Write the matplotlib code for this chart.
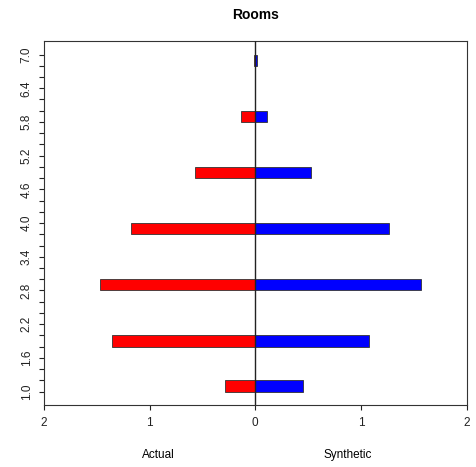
import numpy as np
import matplotlib.pyplot as plt

plt.rcParams['font.family'] = ['Liberation Sans', 'DejaVu Sans']

# histogram bins (width 0.2) that hold data, given by their lower break
bin_lo = [1.0, 1.8, 2.8, 3.8, 4.8, 5.8, 6.8]
# densities per bin
actual = [0.291, 1.353, 1.469, 1.173, 0.575, 0.136, 0.010]
synthetic = [0.448, 1.080, 1.573, 1.263, 0.527, 0.114, 0.015]

breaks = np.round(np.arange(1.0, 7.0001, 0.2), 1)
y_labels = [1.0, 1.6, 2.2, 2.8, 3.4, 4.0, 4.6, 5.2, 5.8, 6.4, 7.0]
x_ticks = [-2, -1, 0, 1, 2]
x_labels = ['2', '1', '0', '1', '2']

fig = plt.figure(figsize=(4.77, 4.67), dpi=100)
ax = fig.add_axes([0.0922, 0.1328, 0.8858, 0.7792])

bw = 0.2
ax.barh(bin_lo, [-v for v in actual], height=bw, align='edge',
        color='#ff0000', edgecolor='#333333', linewidth=0.6, zorder=2)
ax.barh(bin_lo, synthetic, height=bw, align='edge',
        color='#0000ff', edgecolor='#333333', linewidth=0.6, zorder=2)
ax.axvline(0, color='#222222', linewidth=1.0, zorder=3)

ax.set_xlim(-2, 2)
ax.set_ylim(1.0 - 0.24, 7.0 + 0.24)

ax.set_xticks(x_ticks)
ax.set_xticklabels(x_labels)
ax.set_yticks(breaks)
ax.set_yticklabels(['%.1f' % b if any(abs(b - l) < 1e-6 for l in y_labels) else ''
                    for b in breaks], rotation=90, va='center')

ax.tick_params(axis='both', direction='out', length=3.6, width=0.8,
               labelsize=8.5, colors='#222222')
ax.tick_params(axis='x', pad=5)
ax.tick_params(axis='y', pad=4.5)
for s in ax.spines.values():
    s.set_color('#333333')
    s.set_linewidth(0.8)

ax.set_title('Rooms', fontsize=10, fontweight='bold', pad=16)
fig.text(158 / 477, 1 - 455 / 467, 'Actual', ha='center', va='center', fontsize=8.5)
fig.text(348 / 477, 1 - 455 / 467, 'Synthetic', ha='center', va='center', fontsize=8.5)

fig.savefig('out.png', dpi=100)
